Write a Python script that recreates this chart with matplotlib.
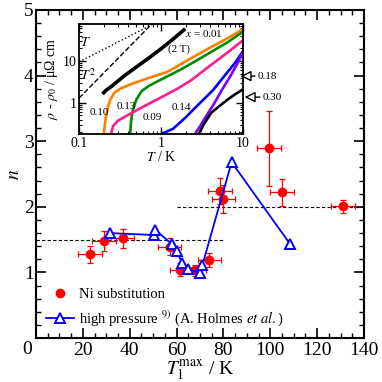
import matplotlib
matplotlib.use('Agg')
import matplotlib.pyplot as plt
from matplotlib.lines import Line2D
from matplotlib.ticker import MultipleLocator, LogLocator, NullFormatter
import numpy as np

plt.rcParams['font.family'] = 'serif'
plt.rcParams['font.serif'] = ['Liberation Serif', 'DejaVu Serif']
plt.rcParams['mathtext.fontset'] = 'stix'

# main panel: Ni substitution (T1max, n) with error bars
ni_T = [23.0, 29.0, 37.0, 57.0, 61.5, 68.0, 74.0, 78.5, 80.0, 99.5, 105.0, 131.0]
ni_n = [1.28, 1.48, 1.52, 1.39, 1.04, 1.03, 1.19, 2.24, 2.12, 2.89, 2.22, 2.01]
ni_Terr = [5, 5, 5, 5, 4.5, 4.5, 5, 5, 5, 5, 5, 5]
ni_nerr = [0.13, 0.15, 0.14, 0.13, 0.10, 0.08, 0.10, 0.20, 0.22, 0.57, 0.20, 0.10]

# high pressure (A. Holmes et al.)
hp_T = [31.5, 50.5, 51.0, 58.0, 60.0, 62.5, 65.0, 70.0, 71.0, 83.5, 108.5]
hp_n = [1.60, 1.57, 1.65, 1.43, 1.32, 1.14, 1.05, 0.99, 1.11, 2.68, 1.43]

# dashed guide levels
guide1_T = [0, 80]
guide1_n = [1.5, 1.5]
guide2_T = [60, 140]
guide2_n = [2.0, 2.0]

# inset: rho - rho0 vs T
ref_T_T = [0.1, 0.8]
ref_T_rho = [9.5, 76]
ref_T2_T = [0.1, 0.77]
ref_T2_rho = [1.3, 76]

c001_T = [0.2, 0.21, 0.25, 0.35, 0.5, 0.7, 1.0, 1.4, 1.9]
c001_rho = [1.75, 1.95, 2.5, 4.3, 7.2, 11.5, 19.5, 33, 55]
c010_T = [0.2, 0.21, 0.225, 0.24, 0.27, 0.32, 0.45, 0.7, 1.2, 2.3, 4.0, 6.5, 10]
c010_rho = [0.18, 0.4, 0.8, 1.2, 1.75, 2.2, 2.9, 3.9, 5.5, 11.5, 21, 35, 57]
c009_T = [0.42, 0.43, 0.45, 0.5, 0.58, 0.7, 1.0, 1.7, 2.3, 4.0, 6.5, 10]
c009_rho = [0.18, 0.35, 0.65, 1.2, 1.9, 2.5, 3.6, 6.1, 8.5, 16, 28, 50]
c013_T = [0.245, 0.26, 0.3, 0.4, 0.6, 1.0, 1.6, 2.3, 4.0, 6.5, 10]
c013_rho = [0.18, 0.28, 0.38, 0.52, 0.8, 1.35, 2.2, 3.4, 7.8, 16, 31]
c014_T = [1.0, 1.4, 2.0, 2.4, 3.0, 4.3, 6.0, 8.0, 10]
c014_rho = [0.18, 0.24, 0.45, 0.65, 1.0, 2.0, 4.5, 9, 17]
c018_T = [2.6, 3.0, 3.6, 4.5, 5.5, 7.0, 8.5, 10]
c018_rho = [0.18, 0.28, 0.5, 1.0, 2.0, 4.3, 8.5, 16]
c030_T = [2.9, 3.3, 4.1, 5.2, 6.5, 8.0, 10]
c030_rho = [0.18, 0.3, 0.58, 0.85, 1.2, 1.6, 2.1]

fig = plt.figure(figsize=(3.82, 3.82), dpi=100)
ax = fig.add_axes([0.094, 0.115, 0.859, 0.859])

ax.plot(guide1_T, guide1_n, '--', color='black', lw=0.8, dashes=(3, 2))
ax.plot(guide2_T, guide2_n, '--', color='black', lw=0.8, dashes=(3, 2))

ax.errorbar(ni_T, ni_n, xerr=ni_Terr, yerr=ni_nerr, fmt='o', color='red',
            ms=6, elinewidth=0.9, capsize=2.5, capthick=0.9, zorder=3)
h_hp, = ax.plot(hp_T, hp_n, '-^', color='blue', mfc='white', mec='blue', ms=7,
                mew=1.4, lw=1.3, zorder=4)
h_ni = Line2D([], [], marker='o', color='red', ls='none', ms=6)

ax.set_xlim(0, 140)
ax.set_ylim(0, 5)
ax.set_xticks(np.arange(0, 141, 20))
ax.set_xticklabels([''] + [str(v) for v in range(20, 141, 20)])
ax.set_yticks(np.arange(0, 6, 1))
ax.set_yticklabels([''] + [str(v) for v in range(1, 6)])
ax.xaxis.set_minor_locator(MultipleLocator(5))
ax.yaxis.set_minor_locator(MultipleLocator(0.2))
ax.tick_params(which='both', direction='in', top=True, right=True,
               labelsize=14)
ax.tick_params(axis='y', pad=1.5)
ax.tick_params(axis='x', pad=2.5)
ax.tick_params(which='major', length=7, width=1.2)
ax.tick_params(which='minor', length=3.5, width=1.0)
for s in ax.spines.values():
    s.set_linewidth(1.5)
fig.text(0.071, 0.084, '0', fontsize=14, ha='center', va='center')

ax.set_xlabel(r'$T_1^{\rm max}$ / K', fontsize=14, labelpad=0)
ax.set_ylabel(r'$n$', fontsize=14, labelpad=1)

ax.legend([h_ni, h_hp],
          ['Ni substitution', r'high pressure $^{9)}$ (A. Holmes $et\ al.$)'],
          loc='lower left', bbox_to_anchor=(0.0, 0.0), frameon=False,
          fontsize=10.5, handlelength=1.9, handletextpad=0.35,
          labelspacing=0.5, borderaxespad=0.3, numpoints=1)

# inset
ai = fig.add_axes([0.207, 0.649, 0.429, 0.288])
ai.plot(ref_T_T, ref_T_rho, ':', color='black', lw=1.0)
ai.plot(ref_T2_T, ref_T2_rho, '--', color='black', lw=1.0)
ai.plot(c001_T, c001_rho, color='black', lw=2.6)
ai.plot(c010_T, c010_rho, color='#ff8000', lw=1.9)
ai.plot(c009_T, c009_rho, color='#008c00', lw=1.9)
ai.plot(c013_T, c013_rho, color='#ff1c8c', lw=1.9)
ai.plot(c014_T, c014_rho, color='#0000ff', lw=1.9)
ai.plot(c018_T, c018_rho, color='#8000ff', lw=1.9)
ai.plot(c030_T, c030_rho, color='black', lw=1.9)
ai.set_xscale('log')
ai.set_yscale('log')
ai.set_xlim(0.1, 10)
ai.set_ylim(0.18, 76)
ai.set_xticks([0.1, 1, 10])
ai.set_xticklabels(['0.1', '1', '10'])
ai.set_yticks([1, 10])
ai.set_yticklabels(['1', '10'])
ai.xaxis.set_minor_locator(LogLocator(base=10, subs=np.arange(2, 10)))
ai.yaxis.set_minor_locator(LogLocator(base=10, subs=np.arange(2, 10)))
ai.xaxis.set_minor_formatter(NullFormatter())
ai.yaxis.set_minor_formatter(NullFormatter())
ai.tick_params(which='both', direction='in', top=True, right=True,
               labelsize=10, pad=2)
ai.tick_params(which='major', length=5, width=1.0)
ai.tick_params(which='minor', length=2.5, width=0.8)
for s in ai.spines.values():
    s.set_linewidth(1.3)
ai.set_xlabel(r'$T$ / K', fontsize=10, labelpad=0)
ai.set_ylabel(r'$\rho$ - $\rho_0$ / μΩ cm', fontsize=10, labelpad=2)

ai.text(0.104, 28, r'$T$', fontsize=10, ha='left', va='center')
ai.text(0.104, 4.6, r'$T^2$', fontsize=10, ha='left', va='center')
ai.text(1.95, 46, r'$x$ = 0.01', fontsize=8, ha='left', va='center')
ai.text(1.22, 19.3, '(2 T)', fontsize=8, ha='left', va='center')
ai.text(0.135, 0.58, '0.10', fontsize=8, ha='left', va='center')
ai.text(0.29, 0.8, '0.13', fontsize=8, ha='left', va='center')
ai.text(0.6, 0.46, '0.09', fontsize=8, ha='left', va='center')
ai.text(1.36, 0.76, '0.14', fontsize=8, ha='left', va='center')

arrow = dict(arrowstyle='-|>,head_length=0.8,head_width=0.4',
             fc='white', ec='black', lw=1.0, shrinkA=0, shrinkB=0)
ai.annotate('0.18', xy=(0.985, 0.527), xycoords='axes fraction',
            xytext=(1.09, 0.527), textcoords='axes fraction',
            fontsize=8, va='center', ha='left', arrowprops=arrow,
            annotation_clip=False)
ai.annotate('0.30', xy=(1.01, 0.336), xycoords='axes fraction',
            xytext=(1.12, 0.336), textcoords='axes fraction',
            fontsize=8, va='center', ha='left', arrowprops=arrow,
            annotation_clip=False)

fig.savefig('out.png', dpi=100)
